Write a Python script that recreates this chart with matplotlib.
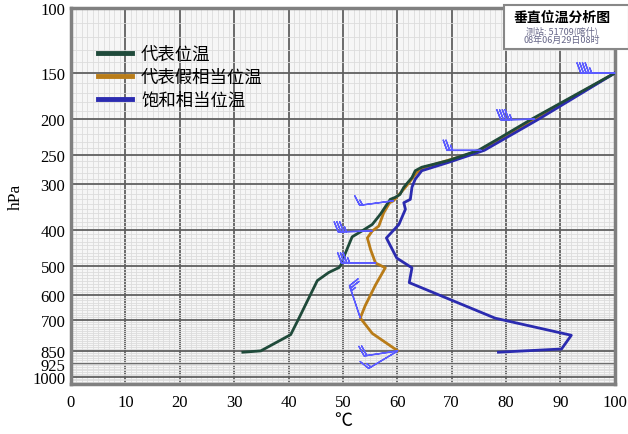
import numpy as np
import matplotlib
matplotlib.use("Agg")
import matplotlib.pyplot as plt
from matplotlib.ticker import FixedLocator, NullFormatter

plt.rcParams['font.family'] = ['Liberation Serif', 'Noto Sans CJK SC', 'DejaVu Sans']

# 代表位温
theta_p = [857, 850, 768, 694, 548, 521, 505, 495, 464, 438, 417, 402, 386, 362,
           337, 330, 326, 320, 306, 288, 276, 270, 259, 243, 226, 200, 150]
theta_t = [31.6, 34.9, 40.4, 41.9, 45.3, 47.4, 49.3, 49.7, 50.4, 51.1, 51.7, 53.5,
           55.4, 56.9, 58.3, 58.7, 59.6, 60.5, 61.2, 62.7, 63.3, 64.5, 69.4, 74.9,
           78.6, 84.7, 100]

# 代表假相当位温
thse_p = [850, 762, 692, 641, 563, 506, 491, 452, 420, 402, 390, 359, 337, 333,
          306, 279, 270, 243, 200, 150]
thse_t = [60.1, 55.4, 53.2, 54.1, 56.0, 57.8, 56.0, 55.1, 54.5, 55.4, 56.6, 57.5,
          58.6, 59.3, 61.5, 63.6, 65.1, 75.4, 85.3, 100]

# 饱和相当位温
sat_p = [857, 840, 771, 693, 555, 506, 476, 420, 386, 351, 337, 330, 306, 291,
         276, 262, 243, 200, 150]
sat_t = [78.6, 90.2, 92.0, 78.0, 62.2, 62.7, 59.9, 58.0, 60.3, 61.5, 61.2, 62.4,
         62.7, 63.3, 64.5, 69.4, 76.0, 86.0, 100]

# wind barbs, anchored on the 代表假相当位温 points
barb_idx = [19, 18, 17, 13, 9, 6, 2, 0, 0]
barb_u = [45, 45, 25, 15, 35, 35, 8, 20, 15]
barb_v = [0, 1, 0, 2, 1, 0, -24, 3, 9]

p_ticks = [100, 150, 200, 250, 300, 400, 500, 600, 700, 850, 925, 1000]
x_ticks = list(range(0, 101, 10))

fig = plt.figure(figsize=(6.28, 4.35), dpi=100)
ax = fig.add_axes([0.113, 0.115, 0.866, 0.864])
ax.set_facecolor('#f6f6f6')

ax.set_yscale('log')
ax.set_ylim(1045, 100)
ax.set_xlim(0, 100)

# grid
ax.xaxis.set_minor_locator(FixedLocator(np.arange(0, 101, 1)))
ax.yaxis.set_minor_locator(FixedLocator(np.arange(100, 1050, 10)))
ax.grid(which='minor', color='#dcdcdc', lw=0.6)
ax.grid(which='major', color='#606060', lw=1.3)
ax.set_axisbelow(True)

ax.set_yticks(p_ticks)
ax.set_yticklabels([str(p) for p in p_ticks])
ax.yaxis.set_minor_formatter(NullFormatter())
ax.set_xticks(x_ticks)
ax.tick_params(which='both', length=0, labelsize=12, pad=4)
ax.tick_params(axis='x', pad=7)

for s in ax.spines.values():
    s.set_color('#808080')
    s.set_linewidth(2.5)

ax.plot(theta_t, theta_p, color='#1f4a3a', lw=2, label='代表位温', zorder=4)
ax.plot(thse_t, thse_p, color='#b97c18', lw=2, label='代表假相当位温', zorder=3)
ax.plot(sat_t, sat_p, color='#2b2bb0', lw=2, label='饱和相当位温', zorder=3)

bx = [thse_t[i] for i in barb_idx]
by = [thse_p[i] for i in barb_idx]
ax.barbs(bx, by, barb_u, barb_v, length=7, color='#5b5bff', lw=1.0,
         sizes=dict(spacing=0.08, height=0.3, width=0.22), zorder=5, clip_on=False)

leg = ax.legend(loc='upper left', bbox_to_anchor=(0.03, 0.93), frameon=False,
                prop={'family': ['Noto Sans CJK SC'], 'size': 12.5},
                handlelength=2.0, handletextpad=0.5, labelspacing=0.3,
                borderaxespad=0.2)
for h in leg.get_lines():
    h.set_linewidth(3.5)

ax.set_ylabel('hPa', fontsize=12.5, labelpad=6)
ax.set_xlabel('℃', fontsize=13, labelpad=2)

# title box in the top right corner
fig.text(0.894, 0.96, '垂直位温分析图', ha='center', va='center', fontsize=10,
         fontweight='bold', family=['Noto Sans CJK SC'], zorder=10)
fig.text(0.894, 0.918, '测站: 51709(喀什)\n08年06月29日08时', ha='center', va='center',
         fontsize=6.5, color='#666688', family=['Noto Sans CJK SC'], linespacing=0.95,
         zorder=10)
fig.patches.append(plt.Rectangle((0.802, 0.886), 0.2, 0.1, transform=fig.transFigure,
                                 facecolor='white', edgecolor='#888888', lw=1.5, zorder=9))

fig.savefig('out.png', dpi=100)
